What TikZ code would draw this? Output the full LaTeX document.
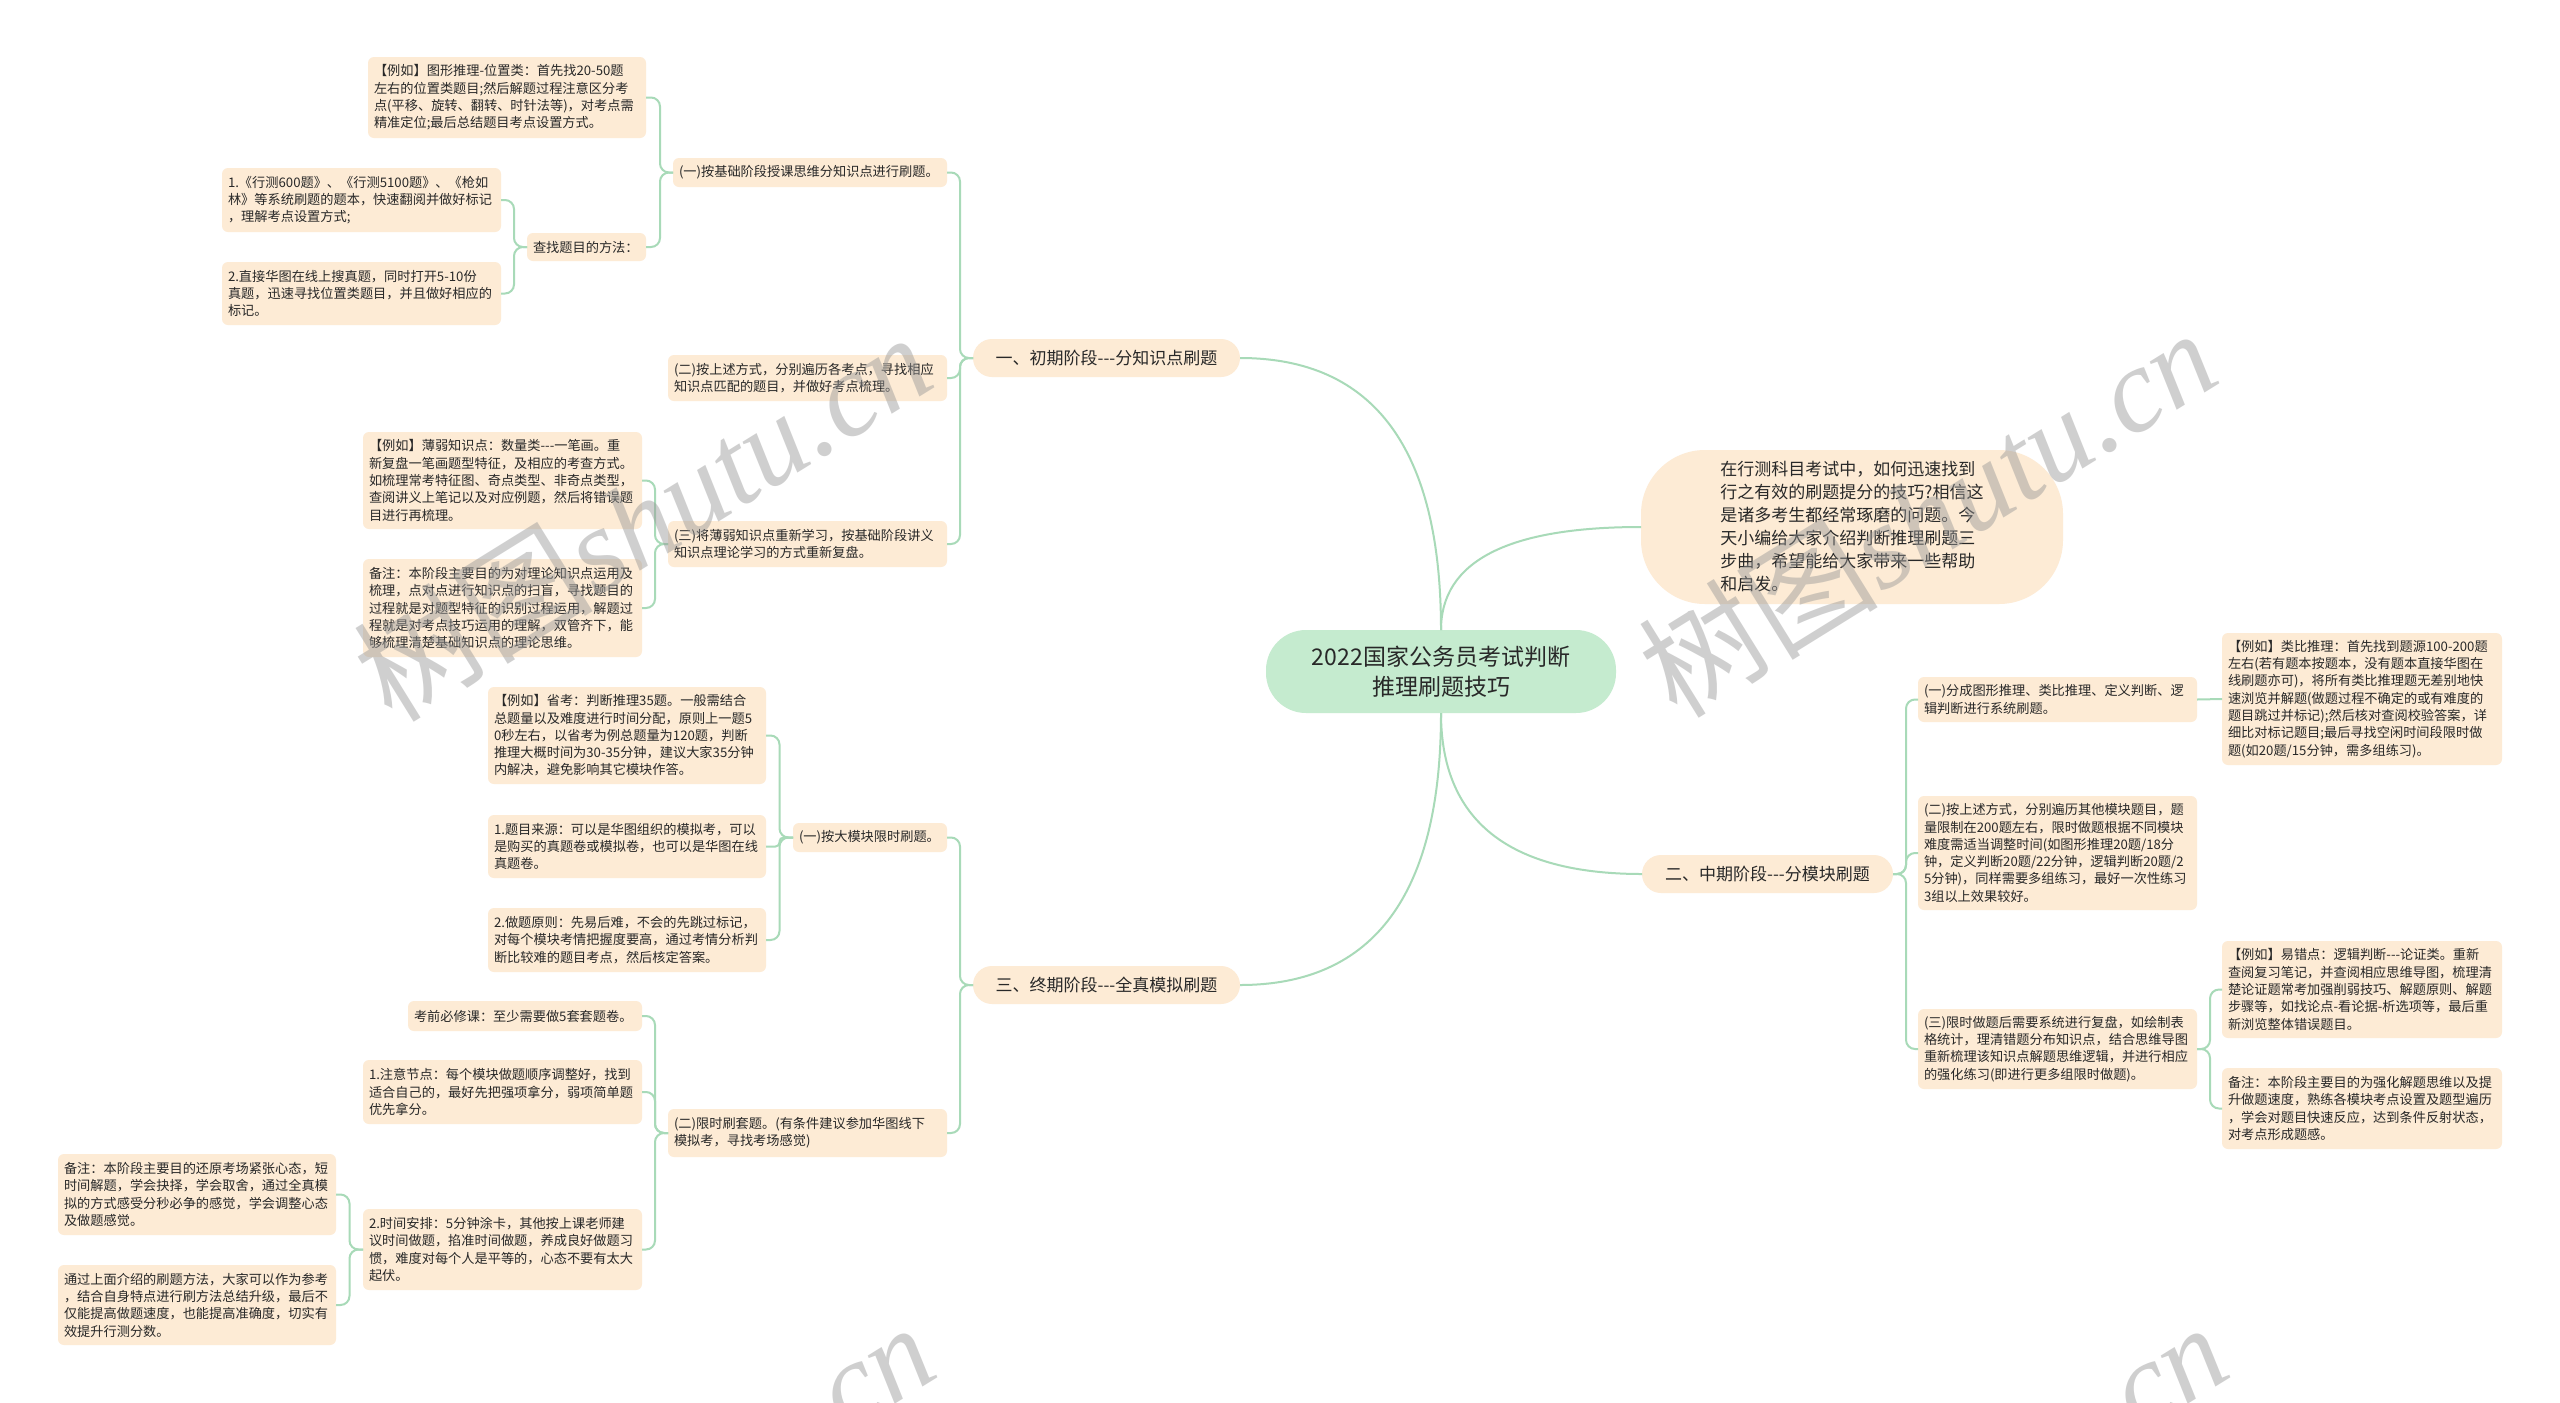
\documentclass[tikz,border=0pt]{standalone}
\usepackage{fontspec}
\setmainfont{Noto Sans CJK SC}
\newfontfamily\wmlatin{Liberation Serif}
\setlength{\parindent}{0pt}
\definecolor{linecol}{RGB}{168,218,184}
\definecolor{boxfill}{RGB}{253,235,213}
\definecolor{rootfill}{RGB}{197,235,207}
\definecolor{txt}{RGB}{40,40,40}
\definecolor{wmgray}{RGB}{150,150,150}
\tikzset{
  box/.style={fill=boxfill, rounded corners=3pt, inner xsep=3pt, inner ysep=0pt, outer sep=0pt,
    align=left, text=txt, font=\fontsize{6.6pt}{8.65pt}\selectfont},
  stagebox/.style={fill=boxfill, rounded corners=9.5pt, inner sep=0pt, outer sep=0pt,
    text=txt, font=\fontsize{8.5pt}{10pt}\selectfont},
  rootbox/.style={fill=rootfill, rounded corners=20pt, inner sep=0pt, outer sep=0pt,
    align=center, text=txt, font=\fontsize{11.5pt}{15pt}\selectfont},
  introbox/.style={fill=boxfill, rounded corners=32pt, inner sep=0pt, outer sep=0pt,
    align=left, text=txt, font=\fontsize{8.5pt}{11.5pt}\selectfont},
  elbow/.style={draw=linecol, line width=1pt, rounded corners=4.5pt},
  curve/.style={draw=linecol, line width=1pt},
  wm/.style={text=wmgray, text opacity=0.45, inner sep=0pt, font=\fontsize{60pt}{64pt}\selectfont},
}
\newcommand\mybox[6]{%
  \pgfmathsetmacro\myBH{(#5-#3)*0.5}%
  \pgfmathsetmacro\myTW{(#4-#2-12)*0.5}%
  \node[box, text width=\myTW pt, minimum height=\myBH pt, anchor=north west] (#1) at (#2,#3) {#6};}
\begin{document}
\begin{tikzpicture}[x=0.5pt,y=-0.5pt]
\useasboundingbox[fill=white] (0,0) rectangle (2560,1403);

% root and intro
\node[rootbox, minimum width=175pt, minimum height=41.5pt, anchor=north west] (root) at (1266,630)
  {2022国家公务员考试判断\\推理刷题技巧};
\node[introbox, minimum width=211pt, minimum height=77pt, anchor=north west] (intro) at (1641,450)
  {在行测科目考试中，如何迅速找到\\行之有效的刷题提分的技巧?相信这\\是诸多考生都经常琢磨的问题。今\\天小编给大家介绍判断推理刷题三\\步曲，希望能给大家带来一些帮助\\和启发。};

% stages
\node[stagebox, minimum width=133.5pt, minimum height=19pt, anchor=north west] (s1) at (973,339)
  {一、初期阶段-{}-{}-分知识点刷题};
\node[stagebox, minimum width=125.5pt, minimum height=19pt, anchor=north west] (s2) at (1642,855)
  {二、中期阶段-{}-{}-分模块刷题};
\node[stagebox, minimum width=133.5pt, minimum height=19pt, anchor=north west] (s3) at (973,966)
  {三、终期阶段-{}-{}-全真模拟刷题};

% stage 1 subtree
\mybox{a1}{368}{57}{646}{138}{【例如】图形推理-位置类：首先找20-50题\\左右的位置类题目;然后解题过程注意区分考\\点(平移、旋转、翻转、时针法等)，对考点需\\精准定位;最后总结题目考点设置方式。}
\mybox{a2}{673}{158}{947}{187}{(一)按基础阶段授课思维分知识点进行刷题。}
\mybox{a3}{222}{168}{501}{232}{1.《行测600题》、《行测5100题》、《枪如\\林》等系统刷题的题本，快速翻阅并做好标记\\，理解考点设置方式;}
\mybox{a4}{527}{233}{646}{261}{查找题目的方法：}
\mybox{a5}{222}{262}{501}{325}{2.直接华图在线上搜真题，同时打开5-10份\\真题，迅速寻找位置类题目，并且做好相应的\\标记。}
\mybox{a6}{668}{355}{947}{401}{(二)按上述方式，分别遍历各考点，寻找相应\\知识点匹配的题目，并做好考点梳理。}
\mybox{a7}{363}{432}{642}{529}{【例如】薄弱知识点：数量类-{}-{}-一笔画。重\\新复盘一笔画题型特征，及相应的考查方式。\\如梳理常考特征图、奇点类型、非奇点类型，\\查阅讲义上笔记以及对应例题，然后将错误题\\目进行再梳理。}
\mybox{a8}{668}{521}{947}{567}{(三)将薄弱知识点重新学习，按基础阶段讲义\\知识点理论学习的方式重新复盘。}
\mybox{a9}{363}{559}{642}{657}{备注：本阶段主要目的为对理论知识点运用及\\梳理，点对点进行知识点的扫盲，寻找题目的\\过程就是对题型特征的识别过程运用，解题过\\程就是对考点技巧运用的理解，双管齐下，能\\够梳理清楚基础知识点的理论思维。}

% stage 3 subtree
\mybox{c1}{488}{687}{766}{784}{【例如】省考：判断推理35题。一般需结合\\总题量以及难度进行时间分配，原则上一题5\\0秒左右，以省考为例总题量为120题，判断\\推理大概时间为30-35分钟，建议大家35分钟\\内解决，避免影响其它模块作答。}
\mybox{c2}{488}{815}{766}{878}{1.题目来源：可以是华图组织的模拟考，可以\\是购买的真题卷或模拟卷，也可以是华图在线\\真题卷。}
\mybox{c3}{488}{908}{766}{972}{2.做题原则：先易后难，不会的先跳过标记，\\对每个模块考情把握度要高，通过考情分析判\\断比较难的题目考点，然后核定答案。}
\mybox{c4}{793}{823}{947}{852}{(一)按大模块限时刷题。}
\mybox{c5}{408}{1001}{642}{1031}{考前必修课：至少需要做5套套题卷。}
\mybox{c6}{363}{1060}{642}{1124}{1.注意节点：每个模块做题顺序调整好，找到\\适合自己的，最好先把强项拿分，弱项简单题\\优先拿分。}
\mybox{c7}{668}{1109}{947}{1157}{(二)限时刷套题。(有条件建议参加华图线下\\模拟考，寻找考场感觉)}
\mybox{c8}{363}{1209}{642}{1290}{2.时间安排：5分钟涂卡，其他按上课老师建\\议时间做题，掐准时间做题，养成良好做题习\\惯，难度对每个人是平等的，心态不要有太大\\起伏。}
\mybox{c9}{58}{1154}{336}{1235}{备注：本阶段主要目的还原考场紧张心态，短\\时间解题，学会抉择，学会取舍，通过全真模\\拟的方式感受分秒必争的感觉，学会调整心态\\及做题感觉。}
\mybox{c10}{58}{1265}{336}{1345}{通过上面介绍的刷题方法，大家可以作为参考\\，结合自身特点进行刷方法总结升级，最后不\\仅能提高做题速度，也能提高准确度，切实有\\效提升行测分数。}

% stage 2 subtree
\mybox{b1}{1918}{677}{2197}{722}{(一)分成图形推理、类比推理、定义判断、逻\\辑判断进行系统刷题。}
\mybox{b2}{2222}{633}{2502}{765}{【例如】类比推理：首先找到题源100-200题\\左右(若有题本按题本，没有题本直接华图在\\线刷题亦可)，将所有类比推理题无差别地快\\速浏览并解题(做题过程不确定的或有难度的\\题目跳过并标记);然后核对查阅校验答案，详\\细比对标记题目;最后寻找空闲时间段限时做\\题(如20题/15分钟，需多组练习)。}
\mybox{b3}{1918}{796}{2197}{910}{(二)按上述方式，分别遍历其他模块题目，题\\量限制在200题左右，限时做题根据不同模块\\难度需适当调整时间(如图形推理20题/18分\\钟，定义判断20题/22分钟，逻辑判断20题/2\\5分钟)，同样需要多组练习，最好一次性练习\\3组以上效果较好。}
\mybox{b4}{1918}{1009}{2197}{1089}{(三)限时做题后需要系统进行复盘，如绘制表\\格统计，理清错题分布知识点，结合思维导图\\重新梳理该知识点解题思维逻辑，并进行相应\\的强化练习(即进行更多组限时做题)。}
\mybox{b5}{2222}{941}{2502}{1038}{【例如】易错点：逻辑判断-{}-{}-论证类。重新\\查阅复习笔记，并查阅相应思维导图，梳理清\\楚论证题常考加强削弱技巧、解题原则、解题\\步骤等，如找论点-看论据-析选项等，最后重\\新浏览整体错误题目。}
\mybox{b6}{2222}{1068}{2502}{1149}{备注：本阶段主要目的为强化解题思维以及提\\升做题速度，熟练各模块考点设置及题型遍历\\，学会对题目快速反应，达到条件反射状态，\\对考点形成题感。}

% root connectors
\draw[curve] (root.north) .. controls +(0,-181) and +(134,0) .. (s1.east);
\draw[curve] (root.north) .. controls +(0,-69) and +(-133,0) .. (intro.west);
\draw[curve] (root.south) .. controls +(0,107) and +(-134,0) .. (s2.west);
\draw[curve] (root.south) .. controls +(0,181) and +(134,0) .. (s3.east);

% stage 1 connectors
\draw[elbow] (s1.west) -- ++(-13,0) |- (a2.east);
\draw[elbow] (s1.west) -- ++(-13,0) |- (a6.east);
\draw[elbow] (s1.west) -- ++(-13,0) |- (a8.east);
\draw[elbow] (a2.west) -- ++(-13,0) |- (a1.east);
\draw[elbow] (a2.west) -- ++(-13,0) |- (a4.east);
\draw[elbow] (a4.west) -- ++(-13,0) |- (a3.east);
\draw[elbow] (a4.west) -- ++(-13,0) |- (a5.east);
\draw[elbow] (a8.west) -- ++(-13,0) |- (a7.east);
\draw[elbow] (a8.west) -- ++(-13,0) |- (a9.east);

% stage 3 connectors
\draw[elbow] (s3.west) -- ++(-13,0) |- (c4.east);
\draw[elbow] (s3.west) -- ++(-13,0) |- (c7.east);
\draw[elbow] (c4.west) -- ++(-13.5,0) |- (c1.east);
\draw[elbow, rounded corners=2pt] (c4.west) -- ++(-13.5,0) |- (c2.east);
\draw[elbow] (c4.west) -- ++(-13.5,0) |- (c3.east);
\draw[elbow] (c7.west) -- ++(-13,0) |- (c5.east);
\draw[elbow] (c7.west) -- ++(-13,0) |- (c6.east);
\draw[elbow] (c7.west) -- ++(-13,0) |- (c8.east);
\draw[elbow] (c8.west) -- ++(-13.5,0) |- (c9.east);
\draw[elbow] (c8.west) -- ++(-13.5,0) |- (c10.east);

% stage 2 connectors
\draw[elbow] (s2.east) -- ++(13,0) |- (b1.west);
\draw[elbow] (s2.east) -- ++(13,0) |- (b3.west);
\draw[elbow] (s2.east) -- ++(13,0) |- (b4.west);
\draw[curve] (b1.east) -- (b2.west);
\draw[elbow] (b4.east) -- ++(13,0) |- (b5.west);
\draw[elbow] (b4.east) -- ++(13,0) |- (b6.west);

% watermarks
\begin{scope}
\clip (0,0) rectangle (2560,1403);
\node[wm, rotate=31.8] (wm1) at (642,516) {树图{\wmlatin\itshape shutu.cn}};
\node[wm, rotate=31.8] (wm2) at (1927,512) {树图{\wmlatin\itshape shutu.cn}};
\node[wm, rotate=31.8] (wm3) at (645,1506) {树图{\wmlatin\itshape shutu.cn}};
\node[wm, rotate=31.8] (wm4) at (1938,1506) {树图{\wmlatin\itshape shutu.cn}};
\end{scope}
\end{tikzpicture}
\end{document}
